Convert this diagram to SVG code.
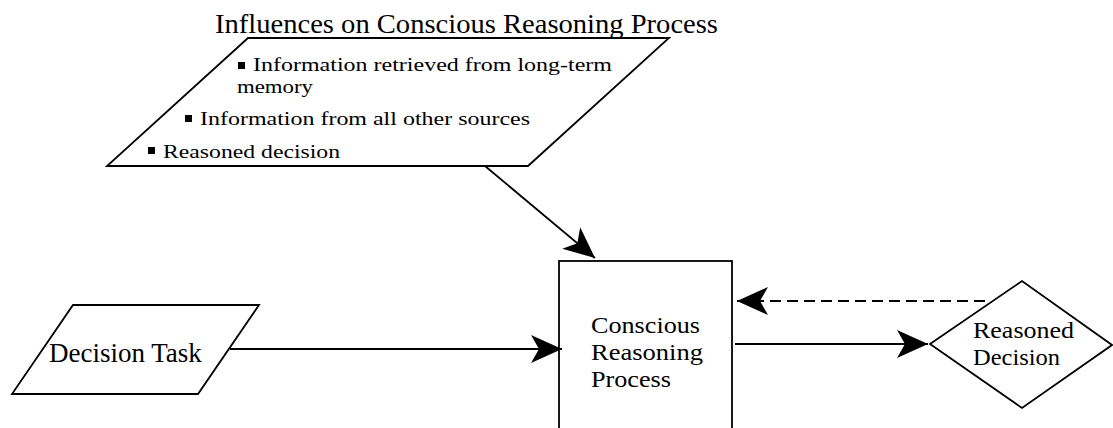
<svg xmlns="http://www.w3.org/2000/svg" width="1113" height="428" viewBox="0 0 1113 428">
<style>
.shape{fill:#fff;stroke:#000;stroke-width:1.8}
.t{font-family:"Liberation Serif","Times New Roman",serif;fill:#000}
.line{fill:none;stroke:#000;stroke-width:1.8}
.dash{fill:none;stroke:#000;stroke-width:2.2;stroke-dasharray:11 6}
</style>
<defs>
<marker id="ah" markerUnits="userSpaceOnUse" viewBox="-32 -16 34 32" markerWidth="34" markerHeight="32" refX="0" refY="0" orient="auto">
<path d="M0,0 L-31,-14 L-23,0 L-31,14 Z" fill="#000"/>
</marker>
</defs>
<rect width="1113" height="428" fill="#fff"/>
<g id="influences">
<polygon class="shape" points="248,38 669,38 528,166 107,166"/>
<text class="t" x="215" y="33" font-size="28" textLength="503" lengthAdjust="spacingAndGlyphs">Influences on Conscious Reasoning Process</text>
<rect x="238" y="62" width="7" height="7"/>
<text class="t" x="253" y="71" font-size="19.5" textLength="359" lengthAdjust="spacingAndGlyphs">Information retrieved from long-term</text>
<text class="t" x="237" y="93" font-size="19.5" textLength="76" lengthAdjust="spacingAndGlyphs">memory</text>
<rect x="185" y="115" width="7" height="7"/>
<text class="t" x="200" y="125" font-size="19.5" textLength="330" lengthAdjust="spacingAndGlyphs">Information from all other sources</text>
<rect x="148" y="147" width="7" height="7"/>
<text class="t" x="163" y="158" font-size="19.5" textLength="177" lengthAdjust="spacingAndGlyphs">Reasoned decision</text>
</g>
<g id="decision-task">
<polygon class="shape" points="73,305 259,305 198,394 12,394"/>
<text class="t" x="49" y="362" font-size="27">Decision Task</text>
</g>
<g id="conscious-reasoning">
<rect class="shape" x="559" y="261" width="173" height="190"/>
<text class="t" x="591" y="333" font-size="24" textLength="109" lengthAdjust="spacingAndGlyphs">Conscious</text>
<text class="t" x="591" y="360" font-size="24" textLength="112" lengthAdjust="spacingAndGlyphs">Reasoning</text>
<text class="t" x="591" y="387" font-size="24" textLength="80" lengthAdjust="spacingAndGlyphs">Process</text>
</g>
<g id="reasoned-decision">
<polygon class="shape" points="930,344 1022,281 1112,345 1022,408"/>
<text class="t" x="973" y="338" font-size="24" textLength="101" lengthAdjust="spacingAndGlyphs">Reasoned</text>
<text class="t" x="973" y="365" font-size="24" textLength="87" lengthAdjust="spacingAndGlyphs">Decision</text>
</g>
<g id="connectors">
<line class="line" x1="485" y1="166" x2="595" y2="258" marker-end="url(#ah)"/>
<line class="line" x1="230" y1="349" x2="562" y2="349" marker-end="url(#ah)"/>
<line class="line" x1="735" y1="344" x2="928" y2="344" marker-end="url(#ah)"/>
<line class="dash" x1="985" y1="301" x2="737" y2="301" marker-end="url(#ah)"/>
</g>
</svg>
